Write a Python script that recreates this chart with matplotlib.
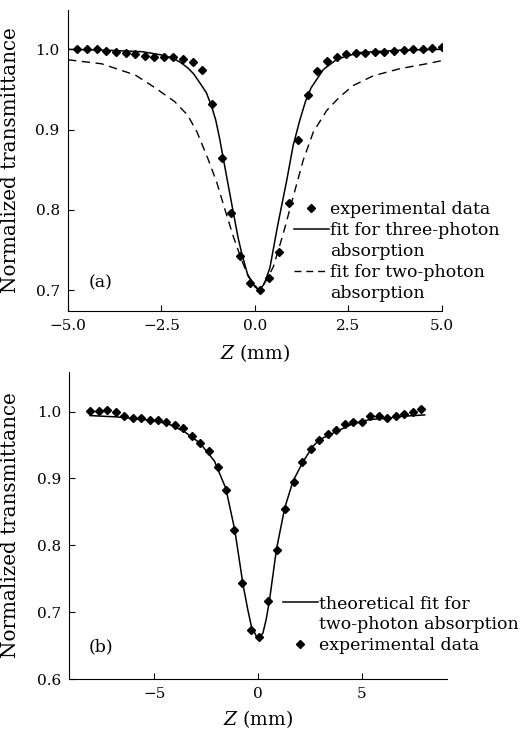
import matplotlib
matplotlib.use('Agg')
import matplotlib.pyplot as plt
from matplotlib.lines import Line2D

plt.rcParams['font.family'] = ['DejaVu Serif']
plt.rcParams['mathtext.fontset'] = 'dejavuserif'

# (a) z-scan data and fits
za = [-4.75, -4.48, -4.22, -3.97, -3.72, -3.46, -3.20, -2.95, -2.69, -2.44,
      -2.18, -1.92, -1.67, -1.42, -1.16, -0.89, -0.64, -0.39, -0.13, 0.13,
      0.38, 0.64, 0.90, 1.15, 1.41, 1.67, 1.93, 2.18, 2.43, 2.69,
      2.95, 3.20, 3.46, 3.72, 3.98, 4.22, 4.48, 4.74, 5.00]
ta = [1.001, 1.001, 1.000, 0.998, 0.997, 0.996, 0.994, 0.992, 0.991, 0.991,
      0.990, 0.988, 0.984, 0.974, 0.932, 0.865, 0.796, 0.742, 0.709, 0.700,
      0.715, 0.748, 0.809, 0.887, 0.943, 0.973, 0.986, 0.991, 0.994, 0.995,
      0.996, 0.997, 0.997, 0.998, 0.999, 1.000, 1.001, 1.002, 1.003]

fit3_z = [-5.0, -4.0, -3.0, -2.5, -2.2, -2.0, -1.8, -1.65, -1.5, -1.3,
          -1.16, -1.05, -0.95, -0.87, -0.72, -0.58, -0.45, -0.35, -0.2, 0.0,
          0.12, 0.25, 0.4, 0.6, 0.85, 1.02, 1.2, 1.35, 1.5, 1.83,
          2.2, 2.8, 3.9, 5.0]
fit3_t = [1.000, 0.999, 0.997, 0.993, 0.989, 0.984, 0.977, 0.970, 0.960, 0.946,
          0.929, 0.912, 0.890, 0.870, 0.832, 0.797, 0.765, 0.745, 0.720, 0.704,
          0.700, 0.708, 0.728, 0.779, 0.837, 0.880, 0.912, 0.935, 0.952, 0.975,
          0.988, 0.996, 0.999, 1.000]

fit2_z = [-5.0, -4.1, -3.2, -2.7, -2.15, -1.8, -1.55, -1.26, -1.02, -0.8,
          -0.58, -0.36, -0.18, 0.1, 0.3, 0.49, 0.76, 1.02, 1.29, 1.56,
          1.92, 2.27, 2.63, 3.16, 3.88, 4.59, 5.0]
fit2_t = [0.987, 0.982, 0.968, 0.953, 0.935, 0.918, 0.897, 0.864, 0.834, 0.800,
          0.767, 0.738, 0.717, 0.700, 0.712, 0.729, 0.771, 0.816, 0.862, 0.897,
          0.924, 0.941, 0.955, 0.967, 0.976, 0.982, 0.986]

# (b) z-scan data and fit
zb = [-8.08, -7.67, -7.26, -6.86, -6.44, -6.03, -5.62, -5.22, -4.82, -4.42,
      -4.00, -3.60, -3.18, -2.78, -2.36, -1.94, -1.56, -1.17, -0.75, -0.34,
      0.07, 0.50, 0.90, 1.32, 1.72, 2.12, 2.54, 2.96, 3.36, 3.78,
      4.18, 4.58, 5.00, 5.42, 5.82, 6.24, 6.64, 7.04, 7.46, 7.88]
tb = [1.001, 1.001, 1.003, 0.999, 0.993, 0.990, 0.990, 0.987, 0.988, 0.984,
      0.980, 0.976, 0.963, 0.953, 0.941, 0.917, 0.882, 0.823, 0.743, 0.674,
      0.663, 0.716, 0.793, 0.855, 0.895, 0.925, 0.944, 0.957, 0.966, 0.973,
      0.981, 0.984, 0.985, 0.993, 0.993, 0.991, 0.994, 0.996, 0.999, 1.004]

fitb_z = [-8.1, -6.8, -5.2, -4.35, -3.55, -2.8, -2.1, -1.55, -1.12, -0.72,
          -0.5, -0.32, 0.0, 0.24, 0.4, 0.56, 0.89, 1.29, 1.69, 2.17,
          2.65, 2.97, 3.78, 4.58, 5.39, 6.19, 6.99, 8.04]
fitb_t = [0.994, 0.992, 0.987, 0.982, 0.970, 0.953, 0.926, 0.885, 0.823, 0.741,
          0.705, 0.679, 0.659, 0.669, 0.690, 0.719, 0.794, 0.856, 0.896, 0.925,
          0.948, 0.958, 0.970, 0.982, 0.988, 0.990, 0.993, 0.995]


def style_axes(ax):
    ax.spines['top'].set_visible(False)
    ax.spines['right'].set_visible(False)
    ax.tick_params(direction='in', length=4, width=0.8, labelsize=11, pad=6)


fig = plt.figure(figsize=(5.29, 7.36), dpi=100)

# panel (a)
ax1 = fig.add_axes([0.1285, 0.5774, 0.707, 0.409])
ax1.plot(fit3_z, fit3_t, 'k-', lw=1.1)
ax1.plot(fit2_z, fit2_t, 'k', lw=1.0, linestyle=(0, (6, 4)))
ax1.plot(za, ta, 'kD', ms=4.3, ls='none')
ax1.set_xlim(-5, 5)
ax1.set_ylim(0.674, 1.049)
ax1.set_xticks([-5.0, -2.5, 0.0, 2.5, 5.0])
ax1.set_xticklabels(['\u22125.0', '\u22122.5', '0.0', '2.5', '5.0'])
ax1.set_yticks([0.7, 0.8, 0.9, 1.0])
ax1.set_yticklabels(['0.7', '0.8', '0.9', '1.0'])
style_axes(ax1)
ax1.set_xlabel('$Z$ (mm)', fontsize=13.5, va='top')
ax1.xaxis.set_label_coords(0.5, -0.103)
ax1.set_ylabel('Normalized transmittance', fontsize=14.3)
ax1.yaxis.set_label_coords(-0.128, 0.5)
ax1.text(0.056, 0.093, '(a)', transform=ax1.transAxes, fontsize=12.5,
         va='center', ha='left')

h_a = [Line2D([], [], color='k', marker='D', ms=4.3, ls='none'),
       Line2D([], [], color='k', lw=1.1),
       Line2D([], [], color='none'),
       Line2D([], [], color='k', lw=1.0, linestyle=(0, (5, 3.5))),
       Line2D([], [], color='none')]
l_a = ['experimental data', 'fit for three-photon', 'absorption',
       'fit for two-photon', 'absorption']
ax1.legend(h_a, l_a, loc='upper left', bbox_to_anchor=(0.604, 0.364),
           frameon=False, fontsize=12.5, handlelength=2.0, handletextpad=0.1,
           borderpad=0, borderaxespad=0, labelspacing=0.22)

# panel (b)
ax2 = fig.add_axes([0.131, 0.0774, 0.7134, 0.417])
ax2.plot(fitb_z, fitb_t, 'k-', lw=1.1)
ax2.plot(zb, tb, 'kD', ms=4.0, ls='none')
ax2.set_xlim(-9.1, 9.1)
ax2.set_ylim(0.6, 1.059)
ax2.set_xticks([-5, 0, 5])
ax2.set_xticklabels(['\u22125', '0', '5'])
ax2.set_yticks([0.6, 0.7, 0.8, 0.9, 1.0])
ax2.set_yticklabels(['0.6', '0.7', '0.8', '0.9', '1.0'])
style_axes(ax2)
ax2.set_xlabel('$Z$ (mm)', fontsize=13.5, va='top')
ax2.xaxis.set_label_coords(0.5, -0.095)
ax2.set_ylabel('Normalized transmittance', fontsize=14.3)
ax2.yaxis.set_label_coords(-0.131, 0.5)
ax2.text(0.052, 0.104, '(b)', transform=ax2.transAxes, fontsize=12.5,
         va='center', ha='left')

h_b = [Line2D([], [], color='k', lw=1.1),
       Line2D([], [], color='none'),
       Line2D([], [], color='k', marker='D', ms=4.0, ls='none')]
l_b = ['theoretical fit for', 'two-photon absorption', 'experimental data']
ax2.legend(h_b, l_b, loc='upper left', bbox_to_anchor=(0.566, 0.272),
           frameon=False, fontsize=12.5, handlelength=2.0, handletextpad=0.1,
           borderpad=0, borderaxespad=0, labelspacing=0.22)

fig.savefig('out.png', dpi=100)
